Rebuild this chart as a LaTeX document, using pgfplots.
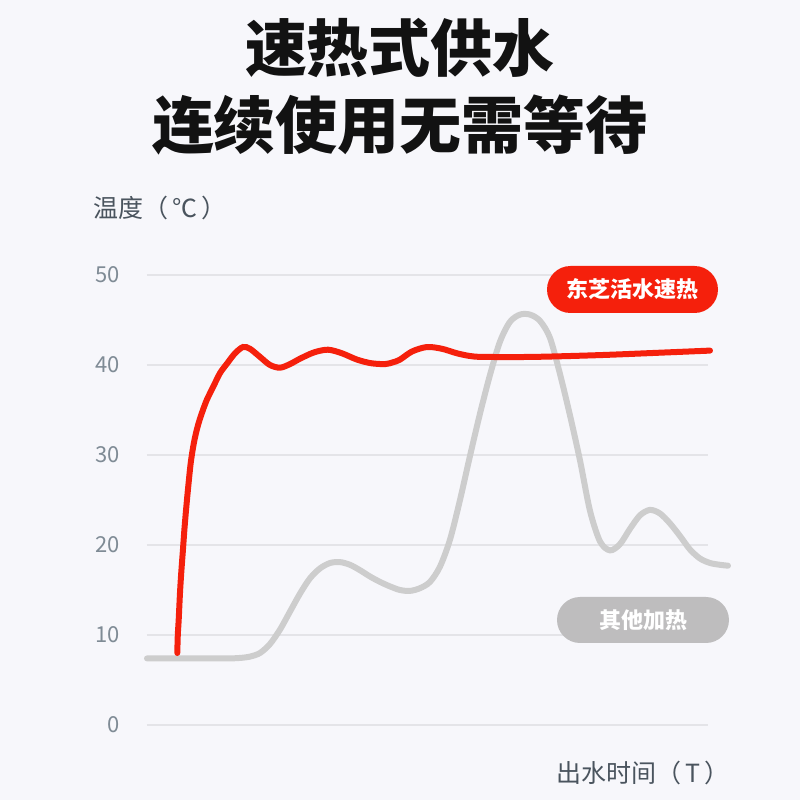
\documentclass[border=0pt]{standalone}
\usepackage{fontspec}
\setmainfont{Noto Sans CJK SC}
\usepackage{pgfplots}
\pgfplotsset{compat=1.18}
\definecolor{bgc}{HTML}{F7F7FB}
\definecolor{gridc}{HTML}{E4E4E8}
\definecolor{tickc}{HTML}{7F8B95}
\definecolor{labc}{HTML}{4A545E}
\definecolor{redc}{HTML}{F5200C}
\definecolor{grayc}{HTML}{CDCDCD}
\definecolor{grayboxc}{HTML}{BEBDBE}
\begin{document}
\begin{tikzpicture}
\path[use as bounding box, fill=bgc] (0,0) rectangle (400pt,400pt);
% titles
\node[font=\fontsize{31}{31}\selectfont\bfseries, text=black!93] at (200pt,376pt) {速热式供水};
\node[font=\fontsize{31}{31}\selectfont\bfseries, text=black!93] at (200pt,337.5pt) {连续使用无需等待};
\node[font=\fontsize{12.5}{12.5}\selectfont, text=labc, anchor=west, inner sep=0pt] at (46.5pt,296pt) {温度（\,℃\,）};
\node[font=\fontsize{12.5}{12.5}\selectfont, text=labc, anchor=east, inner sep=0pt] at (365pt,13.5pt) {出水时间（\,T\,）};
\begin{axis}[
    at={(73.5pt,37.5pt)}, anchor=south west,
    scale only axis, width=280.5pt, height=225pt,
    xmin=147, xmax=708, ymin=0, ymax=50,
    clip=false,
    axis line style={draw=none},
    xtick=\empty,
    ytick={0,10,20,30,40,50},
    major tick length=0pt,
    ymajorgrids,
    grid style={color=gridc, line width=1pt},
    /pgf/number format/assume math mode=true,
    yticklabel style={font=\fontsize{11}{11}\selectfont, text=tickc, anchor=east, xshift=-10pt},
]
% other heating
\addplot[grayc, line width=3pt, line cap=round, smooth, tension=0.5] coordinates {
    (147,7.4) (160,7.4) (170,7.4) (180,7.4) (190,7.4) (200,7.4) (210,7.4)
    (220,7.4) (230,7.4) (240,7.45) (250,7.6) (260,8.0) (270,9.0) (280,10.6)
    (290,12.6) (300,14.6) (310,16.3) (320,17.4) (330,18.0) (340,18.1)
    (350,17.8) (360,17.2) (370,16.5) (380,15.9) (390,15.4) (400,15.0)
    (410,14.9) (420,15.2) (430,15.9) (440,17.6) (450,20.6) (460,25.0)
    (470,29.9) (480,34.6) (490,38.9) (500,42.6) (510,44.8) (520,45.6)
    (530,45.6) (540,44.9) (550,43.0) (560,39.0) (570,34.4) (580,29.4)
    (590,23.8) (600,20.4) (610,19.4) (620,20.1) (630,21.8) (640,23.3)
    (650,23.9) (660,23.5) (670,22.4) (680,21.0) (690,19.5) (700,18.5)
    (710,18.0) (720,17.8) (728,17.7)
};
% toshiba
\addplot[redc, line width=3pt, line cap=round, smooth, tension=0.5] coordinates {
    (177.3,8.0) (177.8,10.0) (178.7,11.7) (180,14.7) (181.3,17.0)
    (182.7,19.1) (184.6,22.0) (186.7,24.7) (188.7,27.0) (190.7,29.1)
    (193,30.8) (195.5,32.2) (198.5,33.5) (202,34.7) (206.7,36.1)
    (213.3,37.6) (220,39.1) (227.3,40.2) (235,41.3) (243,42.0) (250,41.8)
    (260,40.9) (270,40.0) (280,39.7) (290,40.1) (300,40.7) (314,41.4)
    (328,41.7) (342,41.3) (357,40.6) (371,40.2) (385,40.1) (393,40.3)
    (400,40.6) (412,41.5) (427,42.0) (442,41.8) (457,41.3) (470,41.0)
    (483,40.9) (533,40.9) (600,41.1) (667,41.4) (710,41.6)
};
\end{axis}
% legend tags
\node[fill=redc, rounded corners=11.75pt, minimum width=85.5pt, minimum height=23.5pt,
      text=white, font=\fontsize{11}{11}\selectfont\bfseries, inner sep=0pt] at (316.25pt,255.25pt) {东芝活水速热};
\node[fill=grayboxc, rounded corners=11.5pt, minimum width=86pt, minimum height=23pt,
      text=white, font=\fontsize{11}{11}\selectfont\bfseries, inner sep=0pt] at (321.5pt,90pt) {其他加热};
\end{tikzpicture}
\end{document}
